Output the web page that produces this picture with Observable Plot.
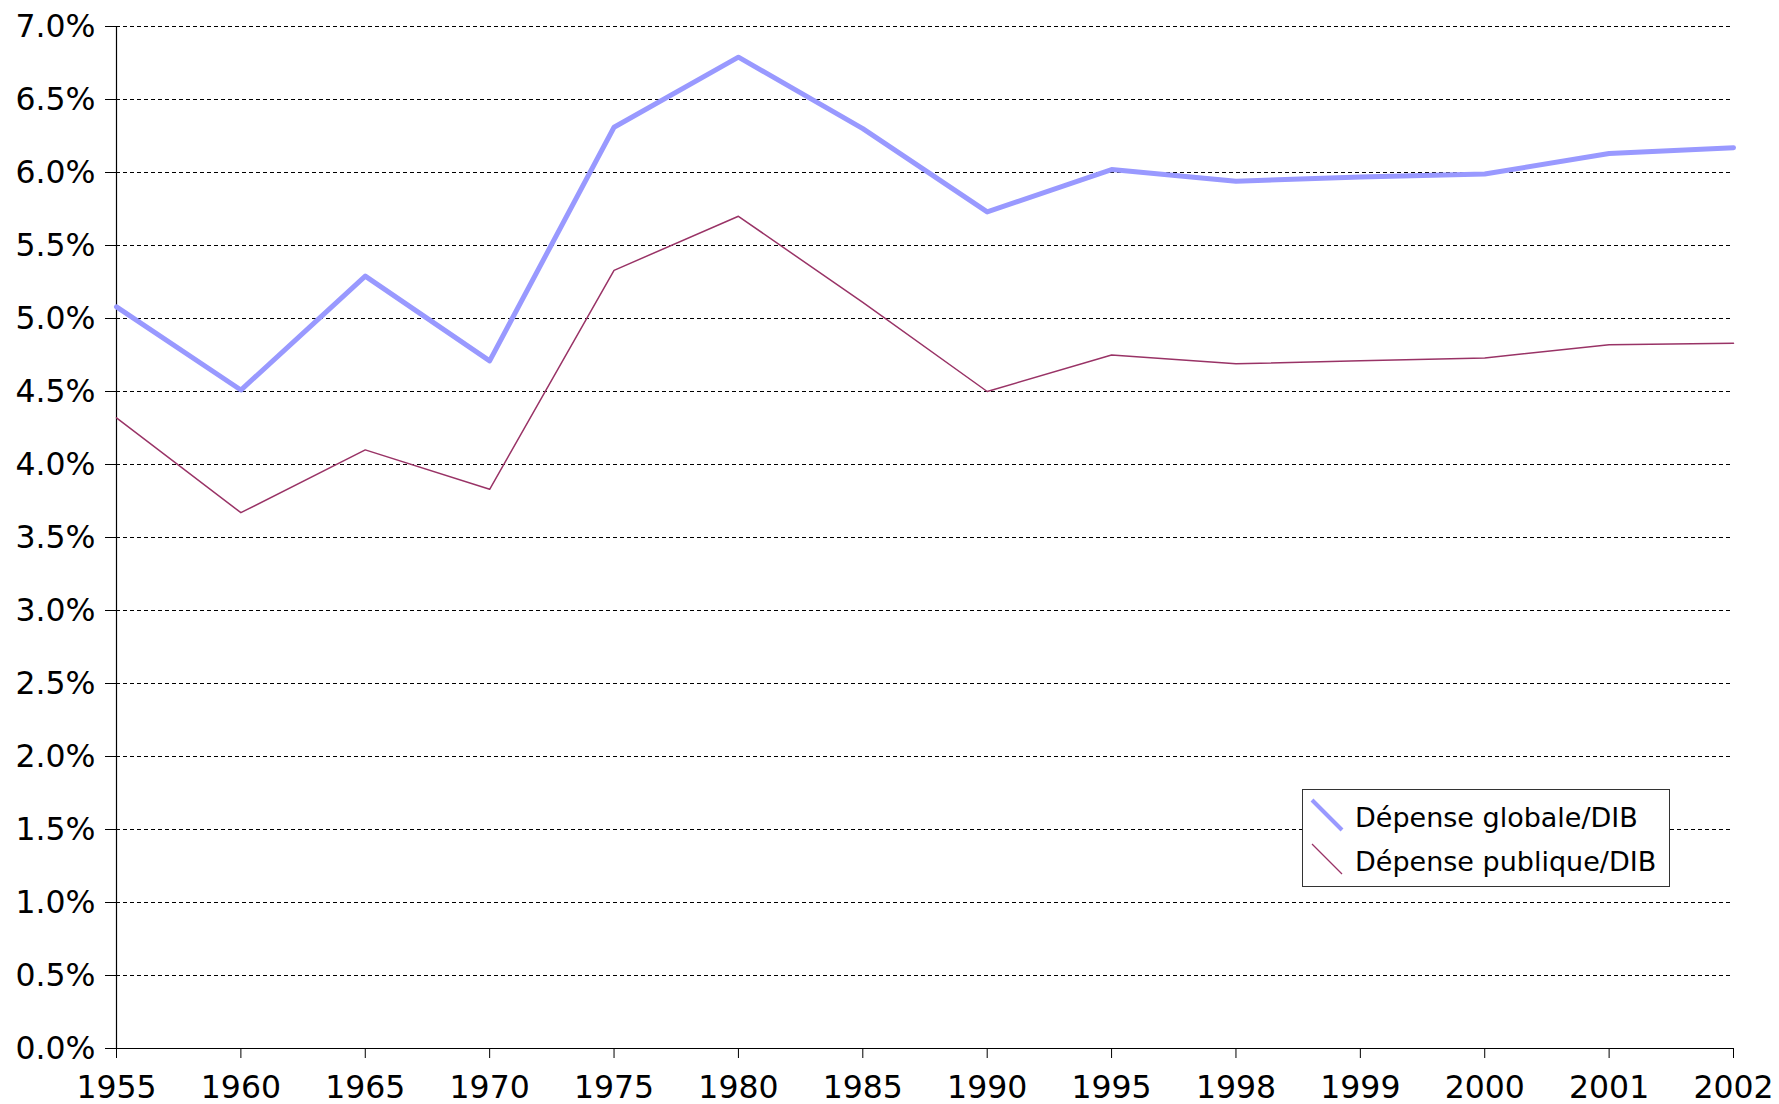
<!DOCTYPE html>
<html>
<head>
<meta charset="utf-8">
<script src="https://cdn.jsdelivr.net/npm/d3@7"></script>
<script src="https://cdn.jsdelivr.net/npm/@observablehq/plot@0.6"></script>
<style>
  body { margin: 0; background: white; }
  #wrap { position: relative; width: 1779px; height: 1104px; font-family: "DejaVu Sans", sans-serif; }
  #legend { position: absolute; left: 1302px; top: 789px; width: 368px; height: 98px; box-sizing: border-box; border: 1.5px solid #333; background: white; }
</style>
</head>
<body>
<div id="wrap"></div>
<script>
const years = ["1955","1960","1965","1970","1975","1980","1985","1990","1995","1998","1999","2000","2001","2002"];
const globale = [5.08, 4.51, 5.29, 4.71, 6.31, 6.79, 6.30, 5.73, 6.02, 5.94, 5.97, 5.99, 6.13, 6.17];
const publique = [4.32, 3.67, 4.10, 3.83, 5.33, 5.70, 5.11, 4.50, 4.75, 4.69, 4.71, 4.73, 4.82, 4.83];
const seriesNames = ["Dépense globale/DIB", "Dépense publique/DIB"];
const seriesColors = ["#9999ff", "#993366"];
const seriesWidths = [5, 1.5];
const yTicks = [0, 0.5, 1, 1.5, 2, 2.5, 3, 3.5, 4, 4.5, 5, 5.5, 6, 6.5, 7];

const dataG = years.map((y, i) => ({year: y, value: globale[i]}));
const dataP = years.map((y, i) => ({year: y, value: publique[i]}));

const chart = Plot.plot({
  width: 1779,
  height: 1104,
  marginLeft: 116,
  marginRight: 46,
  marginTop: 26,
  marginBottom: 56,
  style: {fontFamily: "DejaVu Sans, sans-serif", fontSize: "31px", color: "#000", background: "white"},
  x: {type: "point", domain: years, padding: 0, round: false},
  y: {domain: [0, 7]},
  marks: [
    Plot.gridY(yTicks, {stroke: "#000", strokeOpacity: 1, strokeWidth: 1, strokeDasharray: "4,3"}),
    Plot.axisY(yTicks, {tickSize: 11, tickPadding: 10, fontSize: 31.5, tickFormat: d => d.toFixed(1) + "%", label: null}),
    Plot.axisX({tickSize: 10, tickPadding: 17, fontSize: 31.5, label: null}),
    Plot.ruleY([0], {stroke: "#000", strokeWidth: 1.2}),
    Plot.ruleX([years[0]], {stroke: "#000", strokeWidth: 1.2}),
    Plot.line(dataP, {x: "year", y: "value", stroke: seriesColors[1], strokeWidth: seriesWidths[1], strokeLinejoin: "round"}),
    Plot.line(dataG, {x: "year", y: "value", stroke: seriesColors[0], strokeWidth: seriesWidths[0], strokeLinejoin: "round"})
  ]
});

const wrap = document.getElementById("wrap");
wrap.appendChild(chart);

const legend = document.createElement("div");
legend.id = "legend";
const ns = "http://www.w3.org/2000/svg";
const lsvg = document.createElementNS(ns, "svg");
lsvg.setAttribute("width", "366");
lsvg.setAttribute("height", "96");
lsvg.style.position = "absolute";
lsvg.style.left = "0";
lsvg.style.top = "0";
seriesNames.forEach((name, i) => {
  const y0 = 10 + i * 44;
  const ln = document.createElementNS(ns, "line");
  ln.setAttribute("x1", 9); ln.setAttribute("y1", y0);
  ln.setAttribute("x2", 39); ln.setAttribute("y2", y0 + 30);
  ln.setAttribute("stroke", seriesColors[i]);
  ln.setAttribute("stroke-width", seriesWidths[i] * 0.8);
  lsvg.appendChild(ln);
  const t = document.createElementNS(ns, "text");
  t.setAttribute("x", 52);
  t.setAttribute("y", y0 + 27);
  t.setAttribute("font-size", "27");
  t.setAttribute("font-family", "DejaVu Sans, sans-serif");
  t.setAttribute("fill", "#000");
  t.textContent = name;
  lsvg.appendChild(t);
});
legend.appendChild(lsvg);
wrap.appendChild(legend);
</script>
</body>
</html>
